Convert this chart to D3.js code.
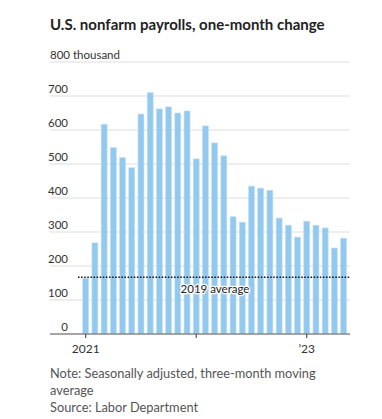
<!DOCTYPE html>
<html>
<head>
<meta charset="utf-8">
<script src="https://cdn.jsdelivr.net/npm/d3@7"></script>
<style>
  html, body { margin: 0; padding: 0; background: #fff; }
  svg { display: block; }
  text { font-family: Lato, "Noto Sans", sans-serif; }
</style>
</head>
<body>
<svg id="chart" width="382" height="419"></svg>
<script>
const months = ["2021-01","2021-02","2021-03","2021-04","2021-05","2021-06","2021-07","2021-08","2021-09","2021-10","2021-11","2021-12",
  "2022-01","2022-02","2022-03","2022-04","2022-05","2022-06","2022-07","2022-08","2022-09","2022-10","2022-11","2022-12",
  "2023-01","2023-02","2023-03","2023-04","2023-05"];
const payrolls = [164, 268, 617, 548, 519, 489, 647, 710, 662, 668, 650, 656,
  515, 612, 562, 524, 345, 329, 435, 429, 423, 341, 320, 285,
  332, 320, 312, 253, 282];
const yTicks = [0, 100, 200, 300, 400, 500, 600, 700, 800];
const xTickMonths = ["2021-01", "2022-01", "2023-01"];
const xTickLabels = ["2021", "", "\u201923"];
const avg2019 = 167;
const avgLabel = "2019 average";

const svg = d3.select("#chart");

const x = d3.scaleBand().domain(months).range([81.1, 348.2]).paddingInner(0.35).paddingOuter(0.175);
const y = d3.scaleLinear().domain([0, 800]).range([334, 62]);

// Title
svg.append("text").attr("x", 50).attr("y", 30)
  .attr("font-size", 15).attr("font-weight", 700).attr("fill", "#222")
  .text("U.S. nonfarm payrolls, one-month change");

// Gridlines
svg.append("g").selectAll("line").data(yTicks.filter(d => d > 0)).join("line")
  .attr("x1", 50).attr("x2", 350)
  .attr("y1", d => y(d)).attr("y2", d => y(d))
  .attr("stroke", "#e8e8e8").attr("stroke-width", 1.5);

// Y labels
svg.append("g").selectAll("text").data(yTicks).join("text")
  .attr("x", d => d === 800 ? 50 : 68)
  .attr("y", d => y(d) - 3)
  .attr("text-anchor", d => d === 800 ? "start" : "end")
  .attr("font-size", 11.5).attr("fill", "#333")
  .text(d => d === 800 ? "800 thousand" : d);

// Bars
svg.append("g").selectAll("rect").data(payrolls).join("rect")
  .attr("x", (d, i) => x(months[i]))
  .attr("width", x.bandwidth())
  .attr("y", d => y(d))
  .attr("height", d => y(0) - y(d))
  .attr("fill", "#93c9ee")
  .attr("stroke", "#c4e2f6").attr("stroke-width", 0.6);

// Baseline axis
svg.append("line").attr("x1", 50).attr("x2", 350).attr("y1", y(0)).attr("y2", y(0))
  .attr("stroke", "#888").attr("stroke-width", 1.5);

// X ticks
svg.append("g").selectAll("line").data(xTickMonths).join("line")
  .attr("x1", d => x(d) + x.bandwidth() / 2).attr("x2", d => x(d) + x.bandwidth() / 2)
  .attr("y1", y(0)).attr("y2", y(0) + 4)
  .attr("stroke", "#333").attr("stroke-width", 1);
svg.append("g").selectAll("text").data(xTickMonths).join("text")
  .attr("x", d => x(d) + x.bandwidth() / 2).attr("y", 353)
  .attr("text-anchor", "middle").attr("font-size", 12).attr("fill", "#333")
  .text((d, i) => xTickLabels[i]);

// 2019 average line
svg.append("line").attr("x1", 78).attr("x2", 350).attr("y1", y(avg2019)).attr("y2", y(avg2019))
  .attr("stroke", "#111").attr("stroke-width", 1.6).attr("stroke-dasharray", "1.5,1.6");
svg.append("text").attr("x", 215).attr("y", 293).attr("text-anchor", "middle")
  .attr("font-size", 11.5).attr("fill", "#222")
  .attr("stroke", "#fff").attr("stroke-width", 2.5).attr("paint-order", "stroke")
  .attr("stroke-linejoin", "round")
  .text(avgLabel);

// Notes
const notes = ["Note: Seasonally adjusted, three-month moving", "average", "Source: Labor Department"];
svg.append("g").selectAll("text").data(notes).join("text")
  .attr("x", 50).attr("y", (d, i) => 378 + i * 16.8)
  .attr("font-size", 12.8).attr("fill", "#555")
  .text(d => d);
</script>
</body>
</html>
